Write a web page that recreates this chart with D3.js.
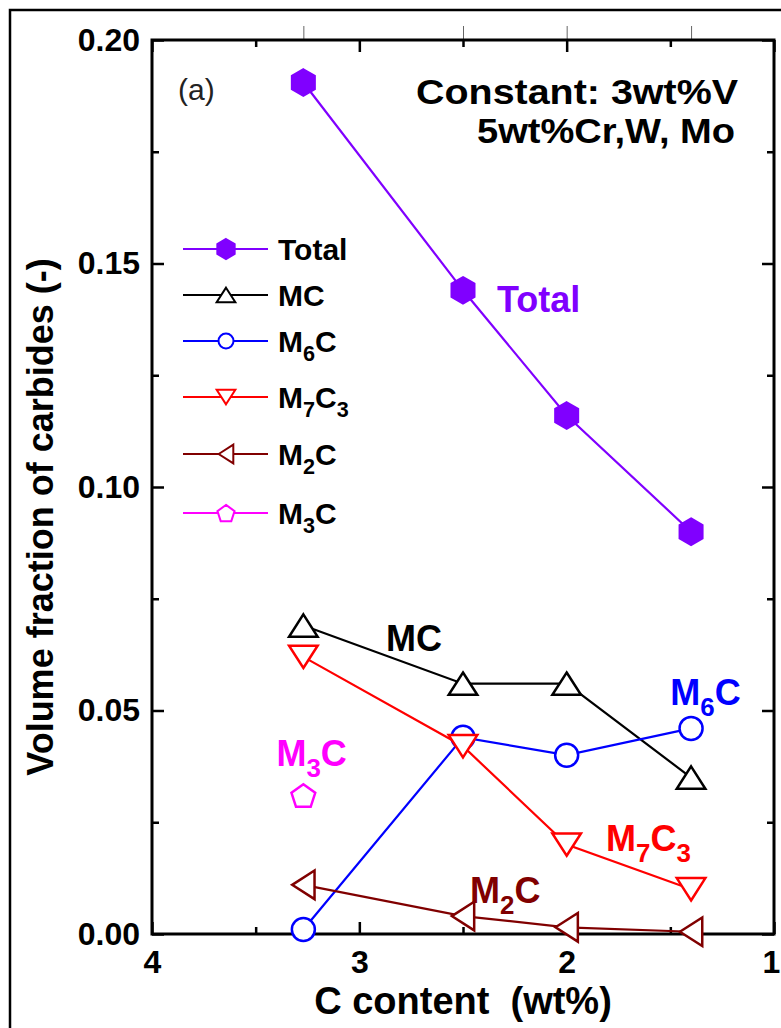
<!DOCTYPE html>
<html lang="en">

<head>
    <meta charset="UTF-8">
    <script src="https://d3js.org/d3.v7.min.js"></script>
    <title>Volume fraction of carbides</title>
    <style>
        body { margin: 0; background: #fff; }
        svg { display: block; font-family: "Liberation Sans", Arial, sans-serif; }
    </style>
</head>

<body>
    <div id="container"></div>

    <script type="text/javascript">

        // data
        const carbonContent = [3.27, 2.5, 2.0, 1.4];
        const totalFraction = [0.1905, 0.144, 0.116, 0.090];
        const mcFraction = [0.069, 0.056, 0.056, 0.035];
        const m6cFraction = [0.001, 0.044, 0.040, 0.046];
        const m7c3Fraction = [0.062, 0.042, 0.020, 0.010];
        const m2cFraction = [0.011, 0.004, 0.0015, 0.0005];
        const m3cCarbon = [3.27];
        const m3cFraction = [0.031];

        const xTicks = [4, 3, 2, 1];
        const xMinorTicks = [3.5, 2.5, 1.5];
        const yTicks = [0, 0.05, 0.10, 0.15, 0.20];
        const yMinorTicks = [0.025, 0.075, 0.125, 0.175];

        const w = 781, h = 1028;
        const margin = { left: 152, right: 7, top: 40, bottom: 94 };

        const svg = d3.select("#container")
            .append("svg")
            .attr("width", w)
            .attr("height", h);

        // outer figure border (only top and left are inside the picture)
        svg.append("rect")
            .attr("x", 10).attr("y", 10)
            .attr("width", 900).attr("height", 1200)
            .attr("fill", "none")
            .attr("stroke", "#000")
            .attr("stroke-width", 2.5);

        const xScale = d3.scaleLinear()
            .domain([4, 1])
            .range([margin.left, w - margin.right]);

        const yScale = d3.scaleLinear()
            .domain([0, 0.2])
            .range([h - margin.bottom, margin.top]);

        const x0 = margin.left, x1 = w - margin.right;
        const y0 = h - margin.bottom, y1 = margin.top;

        // axes, ticks pointing inward
        function styleAxis(g, fontSize) {
            g.select(".domain").remove();
            g.selectAll(".tick line").attr("stroke", "#000").attr("stroke-width", 2.5);
            g.selectAll(".tick text")
                .attr("fill", "#000")
                .style("font-size", fontSize + "px")
                .style("font-weight", "bold")
                .style("font-family", "'Liberation Sans', Arial, sans-serif");
        }

        svg.append("g")
            .attr("transform", "translate(" + x0 + ",0)")
            .call(d3.axisLeft(yScale).tickValues(yTicks).tickSize(-12).tickPadding(12).tickFormat(d3.format(".2f")))
            .call(g => styleAxis(g, 32));
        svg.append("g")
            .attr("transform", "translate(" + x0 + ",0)")
            .call(d3.axisLeft(yScale).tickValues(yMinorTicks).tickSize(-7).tickFormat(""))
            .call(g => styleAxis(g, 32));
        svg.append("g")
            .attr("transform", "translate(" + x1 + ",0)")
            .call(d3.axisRight(yScale).tickValues(yTicks).tickSize(-12).tickFormat(""))
            .call(g => styleAxis(g, 32));
        svg.append("g")
            .attr("transform", "translate(" + x1 + ",0)")
            .call(d3.axisRight(yScale).tickValues(yMinorTicks).tickSize(-7).tickFormat(""))
            .call(g => styleAxis(g, 32));

        svg.append("g")
            .attr("transform", "translate(0," + y0 + ")")
            .call(d3.axisBottom(xScale).tickValues(xTicks).tickSize(-12).tickPadding(16).tickFormat(d3.format("d")))
            .call(g => styleAxis(g, 32))
            .call(g => g.selectAll(".tick text").filter(d => d === 1).attr("dx", -3));
        svg.append("g")
            .attr("transform", "translate(0," + y0 + ")")
            .call(d3.axisBottom(xScale).tickValues(xMinorTicks).tickSize(-7).tickFormat(""))
            .call(g => styleAxis(g, 32));
        svg.append("g")
            .attr("transform", "translate(0," + y1 + ")")
            .call(d3.axisTop(xScale).tickValues(xTicks).tickSize(-12).tickFormat(""))
            .call(g => styleAxis(g, 32));
        svg.append("g")
            .attr("transform", "translate(0," + y1 + ")")
            .call(d3.axisTop(xScale).tickValues(xMinorTicks).tickSize(-7).tickFormat(""))
            .call(g => styleAxis(g, 32));

        // thin outward marks above the frame at the sample positions
        svg.append("g")
            .attr("transform", "translate(0," + y1 + ")")
            .call(d3.axisTop(xScale).tickValues(carbonContent).tickSize(14).tickFormat(""))
            .call(g => g.select(".domain").remove())
            .call(g => g.selectAll(".tick line").attr("stroke", "#666").attr("stroke-width", 1));

        // plot frame
        svg.append("rect")
            .attr("x", x0).attr("y", y1)
            .attr("width", x1 - x0).attr("height", y0 - y1)
            .attr("fill", "none")
            .attr("stroke", "#000")
            .attr("stroke-width", 3);

        // axis titles
        svg.append("text")
            .attr("transform", "translate(40," + ((y0 + y1) / 2 + 30) + ") rotate(-90)")
            .attr("text-anchor", "middle")
            .attr("dy", "0.35em")
            .style("font-size", "36px")
            .style("font-weight", "bold")
            .text("Volume fraction of carbides (-)");

        svg.append("text")
            .attr("x", (x0 + x1) / 2)
            .attr("y", 1014)
            .attr("text-anchor", "middle")
            .style("font-size", "38px")
            .style("font-weight", "bold")
            .attr("xml:space", "preserve")
            .text("C content  (wt%)");

        // marker shapes, centred on their box
        function markerPath(kind, s) {
            var pts;
            if (kind === "circle") {
                return d3.symbol(d3.symbolCircle, Math.PI * s * s)();
            }
            if (kind === "hexagon") {
                pts = d3.range(6).map(i => [s * Math.cos((i * 60 - 90) * Math.PI / 180), s * Math.sin((i * 60 - 90) * Math.PI / 180)]);
            } else if (kind === "pentagon") {
                pts = d3.range(5).map(i => [s * Math.cos((i * 72 - 90) * Math.PI / 180), s * Math.sin((i * 72 - 90) * Math.PI / 180) + s * 0.1]);
            } else if (kind === "up") {
                pts = [[0, -s * 0.86], [s * 1.1, s * 0.86], [-s * 1.1, s * 0.86]];
            } else if (kind === "down") {
                pts = [[0, s * 0.86], [s * 1.1, -s * 0.86], [-s * 1.1, -s * 0.86]];
            } else if (kind === "left") {
                pts = [[-s * 0.86, 0], [s * 0.86, -s * 1.1], [s * 0.86, s * 1.1]];
            }
            return "M" + pts.map(p => p.join(",")).join("L") + "Z";
        }

        const series = [
            { name: "Total", xs: carbonContent, ys: totalFraction, color: "#8000ff", marker: "hexagon", filled: true, size: 13, legendSize: 10 },
            { name: "MC", xs: carbonContent, ys: mcFraction, color: "#000000", marker: "up", filled: false, size: 13, legendSize: 8.5 },
            { name: "M6C", xs: carbonContent, ys: m6cFraction, color: "#0000ff", marker: "circle", filled: false, size: 11.5, legendSize: 7.5 },
            { name: "M7C3", xs: carbonContent, ys: m7c3Fraction, color: "#ff0000", marker: "down", filled: false, size: 13, legendSize: 8.5 },
            { name: "M2C", xs: carbonContent, ys: m2cFraction, color: "#800000", marker: "left", filled: false, size: 13, legendSize: 8.5 },
            { name: "M3C", xs: m3cCarbon, ys: m3cFraction, color: "#ff00ff", marker: "pentagon", filled: false, size: 12.5, legendSize: 9 }
        ];

        const line = d3.line()
            .x(d => xScale(d[0]))
            .y(d => yScale(d[1]));

        series.forEach(function (s) {
            var pts = s.xs.map((v, i) => [v, s.ys[i]]);
            var g = svg.append("g");
            if (pts.length > 1) {
                g.append("path")
                    .datum(pts)
                    .attr("d", line)
                    .attr("fill", "none")
                    .attr("stroke", s.color)
                    .attr("stroke-width", 2.2);
            }
            g.selectAll("path.marker")
                .data(pts)
                .enter()
                .append("path")
                .attr("class", "marker")
                .attr("transform", d => "translate(" + xScale(d[0]) + "," + yScale(d[1]) + ")")
                .attr("d", markerPath(s.marker, s.size))
                .attr("fill", s.filled ? s.color : "#fff")
                .attr("stroke", s.color)
                .attr("stroke-width", 2.5);
        });

        // labels with subscripts: [text, subscript, text, subscript]
        function richText(sel, parts, fontSize) {
            parts.forEach(function (p, i) {
                if (!p) return;
                var isSub = i % 2 === 1;
                var t = sel.append("tspan").text(p);
                if (isSub) {
                    t.style("font-size", (fontSize * 0.72) + "px").attr("dy", fontSize * 0.3);
                } else if (i > 0) {
                    t.attr("dy", -fontSize * 0.3);
                }
            });
        }

        // legend
        const legendRows = [249, 295, 341, 397, 454, 513];
        const legendParts = [["Total"], ["MC"], ["M", "6", "C"], ["M", "7", "C", "3"], ["M", "2", "C"], ["M", "3", "C"]];
        const legend = svg.append("g");
        series.forEach(function (s, i) {
            var ly = legendRows[i];
            legend.append("line")
                .attr("x1", 183).attr("x2", 268)
                .attr("y1", ly).attr("y2", ly)
                .attr("stroke", s.color)
                .attr("stroke-width", 2.2);
            legend.append("path")
                .attr("transform", "translate(226," + ly + ")")
                .attr("d", markerPath(s.marker, s.legendSize))
                .attr("fill", s.filled ? s.color : "#fff")
                .attr("stroke", s.color)
                .attr("stroke-width", 2);
            var t = legend.append("text")
                .attr("x", 278)
                .attr("y", ly + 11)
                .style("font-size", "30px")
                .style("font-weight", "bold");
            richText(t, legendParts[i], 30);
        });

        // in-plot labels, anchored in data units
        const plotLabels = [
            { parts: ["Total"], x: 2.336, y: 0.1392, color: "#8000ff" },
            { parts: ["MC"], x: 2.871, y: 0.0632, color: "#000000" },
            { parts: ["M", "6", "C"], x: 1.50, y: 0.0512, color: "#0000ff" },
            { parts: ["M", "3", "C"], x: 3.40, y: 0.0375, color: "#ff00ff" },
            { parts: ["M", "7", "C", "3"], x: 1.81, y: 0.0185, color: "#ff0000" },
            { parts: ["M", "2", "C"], x: 2.466, y: 0.0069, color: "#800000" }
        ];
        plotLabels.forEach(function (l) {
            var t = svg.append("text")
                .attr("x", xScale(l.x))
                .attr("y", yScale(l.y))
                .attr("fill", l.color)
                .style("font-size", "36px")
                .style("font-weight", "bold");
            richText(t, l.parts, 36);
        });

        // annotations
        svg.append("text")
            .attr("x", 178).attr("y", 100)
            .attr("fill", "#222")
            .style("font-size", "30px")
            .text("(a)");

        svg.append("text")
            .attr("x", 738).attr("y", 104)
            .attr("text-anchor", "end")
            .style("font-size", "35px")
            .style("font-weight", "bold")
            .attr("textLength", 322)
            .attr("lengthAdjust", "spacingAndGlyphs")
            .text("Constant: 3wt%V");

        svg.append("text")
            .attr("x", 735).attr("y", 143)
            .attr("text-anchor", "end")
            .style("font-size", "35px")
            .style("font-weight", "bold")
            .attr("textLength", 258)
            .attr("lengthAdjust", "spacingAndGlyphs")
            .text("5wt%Cr,W, Mo");

    </script>
</body>

</html>
